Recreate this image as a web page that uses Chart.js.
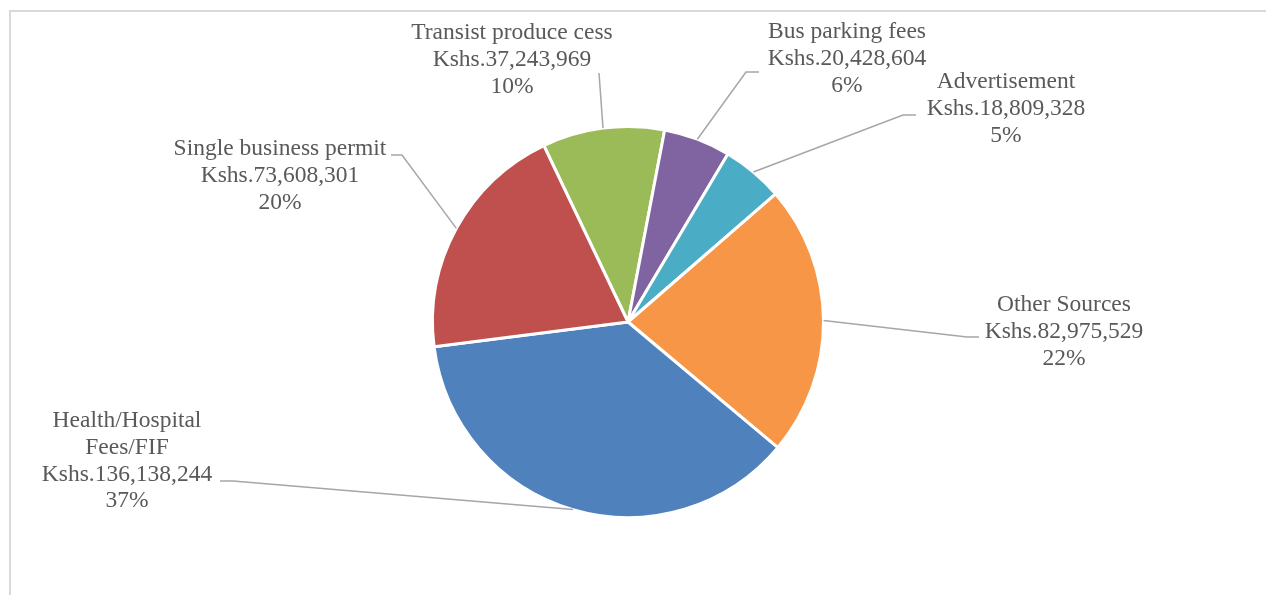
<!DOCTYPE html>
<html>
<head>
<meta charset="utf-8">
<title>Own source revenue</title>
<script src="https://cdn.jsdelivr.net/npm/chart.js@4"></script>
<style>
  html, body { margin: 0; padding: 0; background: #fff; }
  #wrap { position: relative; width: 1266px; height: 595px; overflow: hidden; }
  #frame { position: absolute; left: 9px; top: 10px; right: -4px; bottom: -4px;
           border-top: 2px solid #d9d9d9; border-left: 2px solid #d9d9d9; }
  canvas { position: absolute; left: 0; top: 0; }
</style>
</head>
<body>
<div id="wrap">
  <div id="frame"></div>
  <canvas id="revChart" width="1266" height="595"></canvas>
</div>
<script>
const sources = ['Transist produce cess', 'Bus parking fees', 'Advertisement',
                 'Other Sources', 'Health/Hospital Fees/FIF', 'Single business permit'];
const nameLines = [['Transist produce cess'], ['Bus parking fees'], ['Advertisement'],
                   ['Other Sources'], ['Health/Hospital', 'Fees/FIF'], ['Single business permit']];
const amounts = [37243969, 20428604, 18809328, 82975529, 136138244, 73608301];
const sliceColors = ['#9bbb59', '#8064a2', '#4bacc6', '#f79646', '#4f81bd', '#c0504d'];

// where each label sits relative to the pie centre: text centre x, first baseline,
// start of the leader line and the short horizontal elbow before it bends to the slice
const labelPlacement = [
  { dx: -116, dy: -283, ax: -29,  ay: -249, elbow: 0 },
  { dx: 219,  dy: -284, ax: 131,  ay: -250, elbow: -13 },
  { dx: 378,  dy: -234, ax: 288,  ay: -207, elbow: -13 },
  { dx: 436,  dy: -11,  ax: 351,  ay: 15,   elbow: -12 },
  { dx: -501, dy: 105,  ax: -408, ay: 159,  elbow: 13 },
  { dx: -348, dy: -167, ax: -237, ay: -167, elbow: 11 }
];

const total = amounts.reduce((a, b) => a + b, 0);

const outsideLabels = {
  id: 'outsideLabels',
  afterDatasetsDraw(chart) {
    const ctx = chart.ctx;
    const arcs = chart.getDatasetMeta(0).data;
    ctx.save();
    arcs.forEach((arc, i) => {
      const { x, y, startAngle, endAngle, outerRadius } = arc.getProps(
        ['x', 'y', 'startAngle', 'endAngle', 'outerRadius'], true);
      const mid = (startAngle + endAngle) / 2;
      const px = x + Math.cos(mid) * outerRadius;
      const py = y + Math.sin(mid) * outerRadius;
      const p = labelPlacement[i];

      // leader line
      const sx = x + p.ax, sy = y + p.ay;
      ctx.strokeStyle = '#a6a6a6';
      ctx.lineWidth = 1.5;
      ctx.beginPath();
      ctx.moveTo(sx, sy);
      ctx.lineTo(sx + p.elbow, sy);
      ctx.lineTo(px, py);
      ctx.stroke();

      // label text
      const pct = Math.round(amounts[i] / total * 100) + '%';
      const lines = nameLines[i].concat(['Kshs.' + amounts[i].toLocaleString('en-US'), pct]);
      ctx.fillStyle = '#595959';
      ctx.font = '23.5px "Liberation Serif", "Times New Roman", serif';
      ctx.textAlign = 'center';
      ctx.textBaseline = 'alphabetic';
      lines.forEach((t, k) => ctx.fillText(t, x + p.dx, y + p.dy + k * 26.8));
    });
    ctx.restore();
  }
};

new Chart(document.getElementById('revChart'), {
  type: 'pie',
  data: {
    labels: sources,
    datasets: [{
      data: amounts,
      backgroundColor: sliceColors,
      borderColor: '#ffffff',
      borderWidth: 3
    }]
  },
  options: {
    responsive: false,
    animation: false,
    rotation: -25.5,
    layout: { padding: { top: 125, bottom: 76, left: 0, right: 10 } },
    plugins: {
      legend: { display: false },
      tooltip: { enabled: false }
    }
  },
  plugins: [outsideLabels]
});
</script>
</body>
</html>
